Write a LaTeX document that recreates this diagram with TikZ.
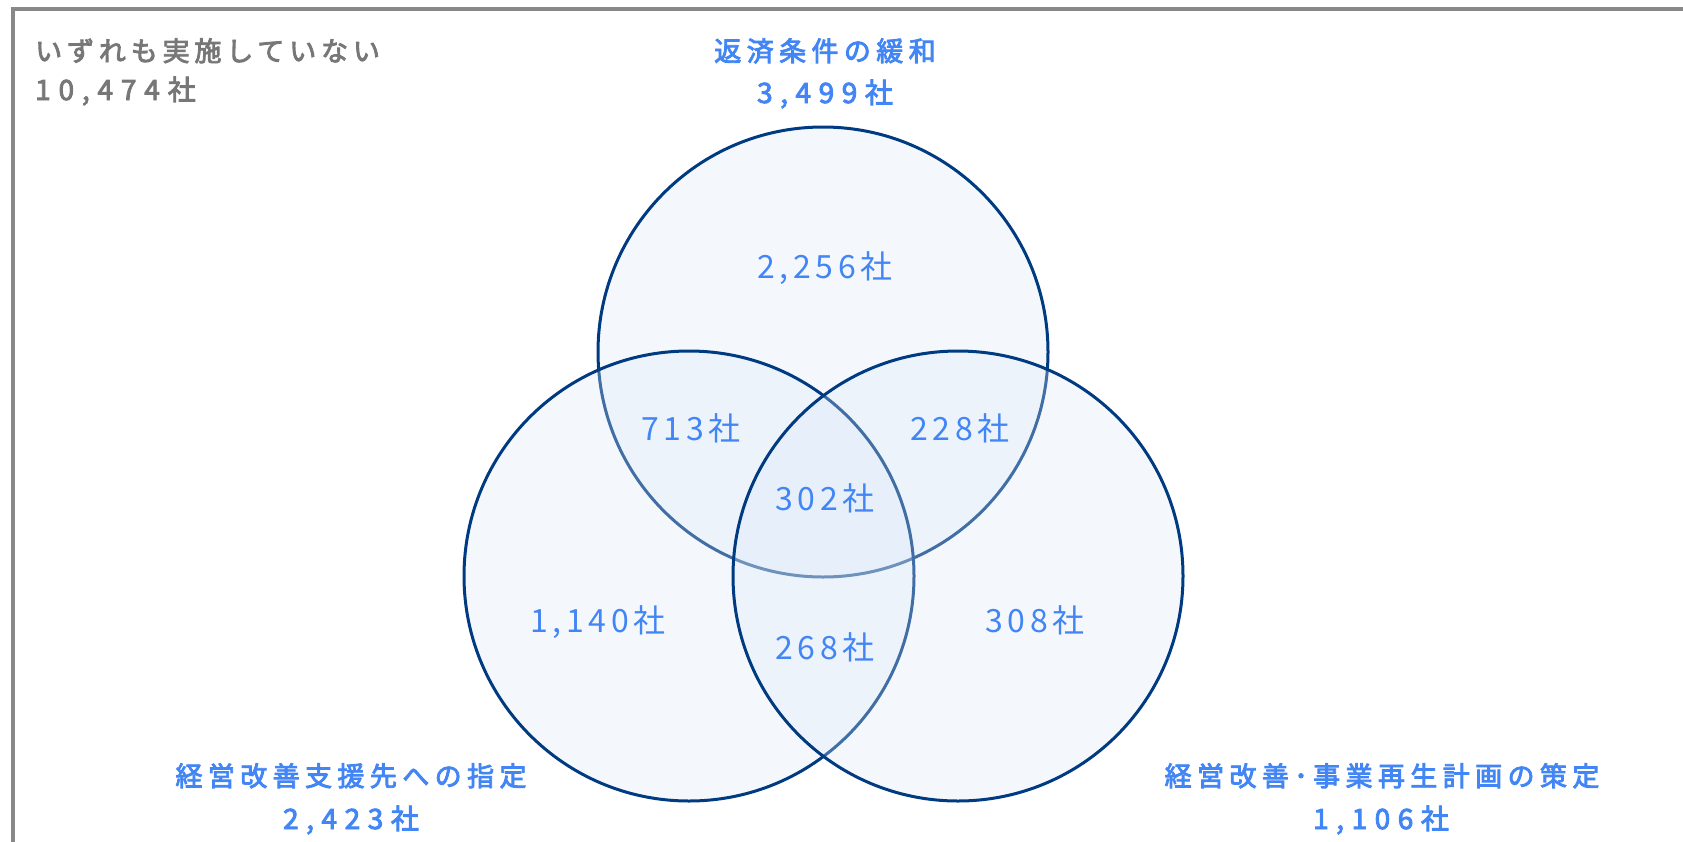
\documentclass[tikz,border=0pt]{standalone}
\usepackage{fontspec}
\newfontfamily\jp{Noto Sans CJK JP}
\newfontfamily\jpm{Noto Sans CJK JP}[FakeBold=3.2]
\definecolor{frame}{RGB}{136,136,136}
\definecolor{gtext}{RGB}{119,119,119}
\definecolor{btext}{RGB}{66,133,244}
\definecolor{navy}{RGB}{0,58,128}
\definecolor{cfill}{RGB}{218,232,248}
\tikzset{
  setcirc/.style={circle, minimum size=450, inner sep=0, line width=3, draw=navy, fill=cfill, fill opacity=0.3, draw opacity=1},
  lab/.style={text=btext, anchor=base, inner sep=0, font=\jpm\fontsize{27}{27}\selectfont\addfontfeature{LetterSpace=20}},
  labnum/.style={text=btext, anchor=base, inner sep=0, font=\jpm\fontsize{28}{28}\selectfont\addfontfeature{LetterSpace=27}},
  glab/.style={text=gtext, anchor=base west, inner sep=0, font=\jpm\fontsize{27}{27}\selectfont\addfontfeature{LetterSpace=18}},
  glabnum/.style={text=gtext, anchor=base west, inner sep=0, font=\jpm\fontsize{28}{28}\selectfont\addfontfeature{LetterSpace=28}},
  regnum/.style={text=btext, anchor=base, inner sep=0, font=\jp\fontsize{32}{32}\selectfont\addfontfeature{LetterSpace=15}},
}
\begin{document}
\begin{tikzpicture}[x=1pt,y=-1pt]
\clip (0,0) rectangle (1683,841);
\draw[frame, line width=4] (13,8.5) rectangle (1750,900);
% circles: top, left, right
\node[setcirc] (top) at (823,352) {};
\node[setcirc] (left) at (689,576) {};
\node[setcirc] (right) at (958,576) {};
% outside
\node[glab] (none) at (35,61) {いずれも実施していない};
\node[glabnum] (nonen) at (35,100) {10,474社};
% set labels
\node[lab] (ta) at (825,61) {返済条件の緩和};
\node[labnum] (tn) at (825,103) {3,499社};
\node[lab] (la) at (351,786) {経営改善支援先への指定};
\node[labnum] (ln) at (351,829) {2,423社};
\node[lab] (ra) at (1382,786) {経営改善･事業再生計画の策定};
\node[labnum] (rn) at (1381,829) {1,106社};
% regions
\node[regnum] (r1) at (825,278) {2,256社};
\node[regnum] (r2) at (691,440) {713社};
\node[regnum] (r3) at (960,440) {228社};
\node[regnum] (r4) at (825,510) {302社};
\node[regnum] (r5) at (598,632) {1,140社};
\node[regnum] (r6) at (825,659) {268社};
\node[regnum] (r7) at (1035,632) {308社};
\end{tikzpicture}
\end{document}
